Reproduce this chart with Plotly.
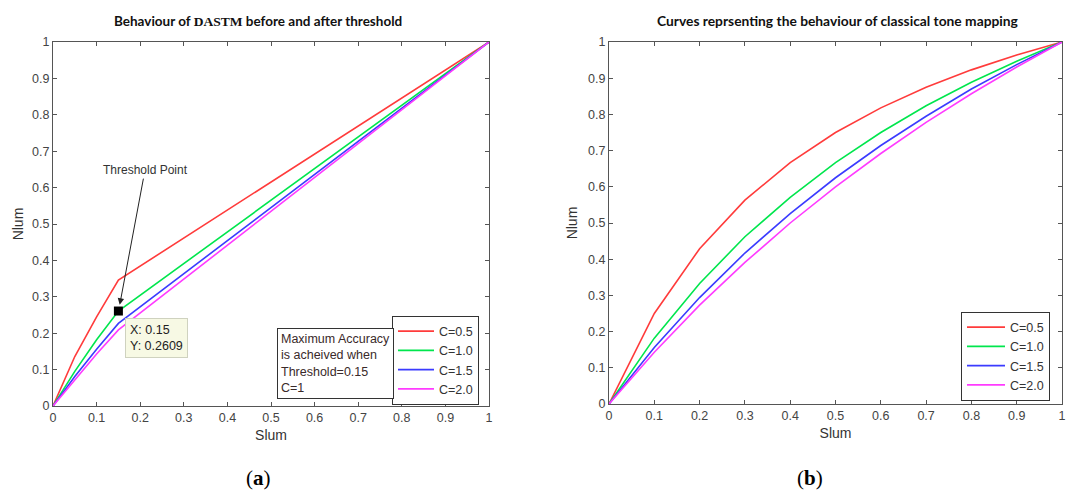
import plotly.graph_objects as go

# ---------------- data ----------------
series_names = ["C=0.5", "C=1.0", "C=1.5", "C=2.0"]
series_colors = ["#ff3b3b", "#00e64d", "#3b3bff", "#ff3bff"]

# (a) DASTM before / after threshold
slum_a = [0, 0.05, 0.1, 0.15, 1.0]
nlum_a_c05 = [0, 0.136, 0.245, 0.346, 1.0]
nlum_a_c10 = [0, 0.095, 0.182, 0.2609, 1.0]
nlum_a_c15 = [0, 0.081, 0.156, 0.227, 1.0]
nlum_a_c20 = [0, 0.073, 0.143, 0.209, 1.0]

threshold_x = [0.15]
threshold_y = [0.2609]

# (b) classical tone mapping
slum_b = [0, 0.1, 0.2, 0.3, 0.4, 0.5, 0.6, 0.7, 0.8, 0.9, 1.0]
nlum_b_c05 = [0, 0.25, 0.429, 0.563, 0.667, 0.75, 0.818, 0.875, 0.923, 0.964, 1.0]
nlum_b_c10 = [0, 0.182, 0.333, 0.462, 0.571, 0.667, 0.75, 0.824, 0.889, 0.947, 1.0]
nlum_b_c15 = [0, 0.156, 0.294, 0.417, 0.526, 0.625, 0.714, 0.795, 0.87, 0.9375, 1.0]
nlum_b_c20 = [0, 0.143, 0.273, 0.391, 0.5, 0.6, 0.692, 0.778, 0.857, 0.931, 1.0]

tick_vals = [0, 0.1, 0.2, 0.3, 0.4, 0.5, 0.6, 0.7, 0.8, 0.9, 1]
tick_text = ["0", "0.1", "0.2", "0.3", "0.4", "0.5", "0.6", "0.7", "0.8", "0.9", "1"]

# ---------------- figure ----------------
W, H = 1067, 493
fig = go.Figure()

a_series = [nlum_a_c05, nlum_a_c10, nlum_a_c15, nlum_a_c20]
b_series = [nlum_b_c05, nlum_b_c10, nlum_b_c15, nlum_b_c20]

for name, col, ys in zip(series_names, series_colors, a_series):
    fig.add_trace(go.Scatter(x=slum_a, y=ys, mode="lines", name=name,
                             line=dict(color=col, width=1.6),
                             xaxis="x", yaxis="y", legend="legend"))

fig.add_trace(go.Scatter(x=threshold_x, y=threshold_y, mode="markers",
                         marker=dict(symbol="square", size=9, color="black"),
                         showlegend=False, xaxis="x", yaxis="y"))

for name, col, ys in zip(series_names, series_colors, b_series):
    fig.add_trace(go.Scatter(x=slum_b, y=ys, mode="lines", name=name,
                             line=dict(color=col, width=1.6),
                             xaxis="x2", yaxis="y2", legend="legend2"))

ax_common = dict(range=[0, 1], tickmode="array", tickvals=tick_vals, ticktext=tick_text,
                 ticks="inside", ticklen=4, tickcolor="#555", showline=True,
                 linecolor="#555", linewidth=1, mirror="ticks", showgrid=False,
                 zeroline=False, tickfont=dict(family="Liberation Sans, Arial", size=12.5, color="#444"),
                 fixedrange=True, automargin=False)

font_title = dict(family="Liberation Sans, Arial", size=14, color="#333")

y_bot_a = (H - 406) / H
y_bot_b = (H - 404) / H
y_top = (H - 42) / H

fig.update_layout(
    width=W, height=H, autosize=False,
    margin=dict(l=0, r=0, t=0, b=0),
    paper_bgcolor="white", plot_bgcolor="white",
    xaxis=dict(domain=[53 / W, 489 / W], anchor="y",
               title=dict(text="Slum", font=font_title, standoff=6), **ax_common),
    yaxis=dict(domain=[y_bot_a, y_top], anchor="x",
               title=dict(text="Nlum", font=font_title, standoff=5), **ax_common),
    xaxis2=dict(domain=[609 / W, 1062 / W], anchor="y2",
                title=dict(text="Slum", font=font_title, standoff=6), **ax_common),
    yaxis2=dict(domain=[y_bot_b, y_top], anchor="x2",
                title=dict(text="Nlum", font=font_title, standoff=7), **ax_common),
    legend=dict(x=479 / W, xanchor="right", y=(H - 360) / H, yanchor="middle",
                bgcolor="white", bordercolor="#333", borderwidth=1,
                font=dict(family="Liberation Sans, Arial", size=12.5, color="#333"),
                tracegroupgap=0, itemwidth=36),
    legend2=dict(x=1050 / W, xanchor="right", y=(H - 356) / H, yanchor="middle",
                 bgcolor="white", bordercolor="#333", borderwidth=1,
                 font=dict(family="Liberation Sans, Arial", size=12.5, color="#333"),
                 tracegroupgap=0, itemwidth=38),
)

annotations = [
    # titles
    dict(text="<b>Behaviour of <span style='font-family:Liberation Serif'>DASTM</span> before and after threshold</b>",
         x=258 / W, y=(H - 21) / H, xref="paper", yref="paper", showarrow=False,
         font=dict(family="Lato, Open Sans", size=13.5, color="#111"), xanchor="center", yanchor="middle"),
    dict(text="<b>Curves reprsenting the behaviour of classical tone mapping</b>",
         x=838 / W, y=(H - 20) / H, xref="paper", yref="paper", showarrow=False,
         font=dict(family="Lato, Open Sans", size=13.8, color="#111"), xanchor="center", yanchor="middle"),
    # panel labels
    dict(text="(<b>a</b>)", x=258 / W, y=(H - 478) / H, xref="paper", yref="paper", showarrow=False,
         font=dict(family="Liberation Serif", size=21, color="black"), xanchor="center", yanchor="middle"),
    dict(text="(<b>b</b>)", x=810 / W, y=(H - 478) / H, xref="paper", yref="paper", showarrow=False,
         font=dict(family="Liberation Serif", size=21, color="black"), xanchor="center", yanchor="middle"),
    # threshold arrow
    dict(text="Threshold Point", x=0.153, y=0.278, xref="x", yref="y",
         ax=0.211, ay=0.648, axref="x", ayref="y", showarrow=True,
         arrowhead=2, arrowsize=1.3, arrowwidth=1, arrowcolor="#222",
         font=dict(family="Liberation Sans, Arial", size=12, color="#333")),
    # data tip
    dict(text="X: 0.15<br>Y: 0.2609", x=0.165, y=0.243, xref="x", yref="y",
         xanchor="left", yanchor="top", showarrow=False, align="left",
         bgcolor="#f7f9e4", bordercolor="#cfd2bf", borderwidth=1, borderpad=4,
         font=dict(family="Liberation Sans, Arial", size=12.5, color="#222")),
    # info textbox
    dict(text="Maximum Accuracy<br>is acheived when<br>Threshold=0.15<br>C=1",
         x=277 / W, y=(H - 328) / H, xref="paper", yref="paper",
         xanchor="left", yanchor="top", showarrow=False, align="left",
         bgcolor="white", bordercolor="#333", borderwidth=1, borderpad=3,
         font=dict(family="Liberation Sans, Arial", size=12.5, color="#3a2a2a")),
]
fig.update_layout(annotations=annotations)

fig.write_html("out.html", config={"displayModeBar": False, "staticPlot": True},
               post_script="document.body.style.margin='0';document.body.style.overflow='hidden';")
